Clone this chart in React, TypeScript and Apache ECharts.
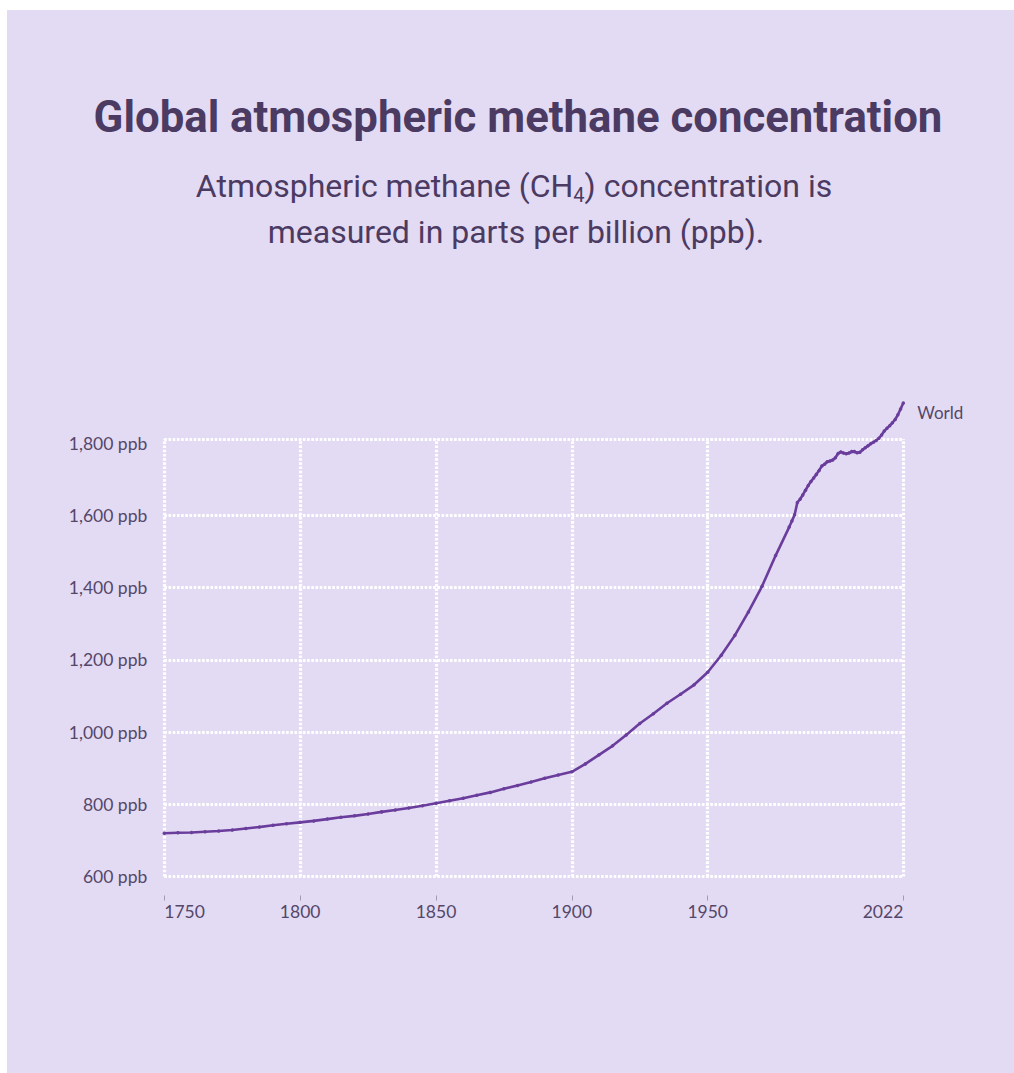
import React, { useEffect, useRef } from "react";
import * as echarts from "echarts";

const years = [
  1750, 1755, 1760, 1765, 1770, 1775, 1780, 1785, 1790, 1795,
  1800, 1805, 1810, 1815, 1820, 1825, 1830, 1835, 1840, 1845,
  1850, 1855, 1860, 1865, 1870, 1875, 1880, 1885, 1890, 1895,
  1900, 1905, 1910, 1915, 1920, 1925, 1930, 1935, 1940, 1945,
  1950, 1955, 1960, 1965, 1970, 1975, 1980, 1981, 1982, 1983,
  1984, 1985, 1986, 1987, 1988, 1989, 1990, 1991, 1992, 1993,
  1994, 1995, 1996, 1997, 1998, 1999, 2000, 2001, 2002, 2003,
  2004, 2005, 2006, 2007, 2008, 2009, 2010, 2011, 2012, 2013,
  2014, 2015, 2016, 2017, 2018, 2019, 2020, 2021, 2022,
];

const methanePpb = [
  720, 721, 722, 724, 726, 729, 733, 737, 742, 746,
  750, 754, 759, 764, 768, 773, 779, 784, 790, 796,
  803, 810, 817, 825, 833, 843, 852, 862, 872, 881,
  890, 912, 937, 962, 992, 1024, 1051, 1080, 1105, 1131,
  1166, 1213, 1268, 1333, 1404, 1489, 1568, 1585, 1602, 1636,
  1645, 1657, 1670, 1683, 1694, 1704, 1714, 1725, 1737, 1742,
  1749, 1751, 1754, 1760, 1772, 1776, 1773, 1771, 1773, 1777,
  1777, 1774, 1775, 1782, 1788, 1793, 1799, 1803, 1808, 1814,
  1823, 1834, 1842, 1849, 1857, 1866, 1879, 1895, 1912,
];

const xTickYears = [1750, 1800, 1850, 1900, 1950, 2022];
const yTickValues = [600, 800, 1000, 1200, 1400, 1600, 1800];
const seriesName = "World";
const titleText = "Global atmospheric methane concentration";
const subtitleLine1 = "Atmospheric methane (CH{sub|4}) concentration is";
const subtitleLine2 = "measured in parts per billion (ppb).";

const BG = "#e3dbf3";
const TITLE_COLOR = "#4b3a62";
const LABEL_COLOR = "#55476a";
const LINE_COLOR = "#6a3d9c";

export default function App() {
  const ref = useRef<HTMLDivElement>(null);

  useEffect(() => {
    if (!ref.current) return;
    const chart = echarts.init(ref.current, undefined, { renderer: "svg" });
    const data = years.map((y, i) => [y, methanePpb[i]]);

    const gridLines = [
      ...xTickYears.map((v) => ({ xAxis: v })),
      ...yTickValues.slice(0, -1).map((v) => ({ yAxis: v })),
      { yAxis: 1812 },
    ];

    chart.setOption({
      animation: false,
      backgroundColor: BG,
      graphic: [
        {
          type: "text",
          x: 511,
          y: 106.5,
          scaleX: 0.994,
          style: {
            text: titleText,
            fontFamily: "Roboto",
            fontWeight: 700,
            fontSize: 44,
            fill: TITLE_COLOR,
            align: "center",
            verticalAlign: "middle",
          },
        },
        {
          type: "text",
          x: 507,
          y: 176,
          style: {
            text: subtitleLine1,
            fontFamily: "Roboto",
            fontWeight: 400,
            fontSize: 32,
            lineHeight: 38,
            fill: TITLE_COLOR,
            align: "center",
            verticalAlign: "middle",
            rich: {
              sub: {
                fontFamily: "Roboto",
                fontSize: 20,
                lineHeight: 20,
                verticalAlign: "bottom",
                fill: TITLE_COLOR,
              },
            },
          },
        },
        {
          type: "text",
          x: 509,
          y: 222,
          style: {
            text: subtitleLine2,
            fontFamily: "Roboto",
            fontWeight: 400,
            fontSize: 32,
            fill: TITLE_COLOR,
            align: "center",
            verticalAlign: "middle",
          },
        },
      ],
      grid: { left: 157.3, right: 110.7, top: 429, bottom: 196.5 },
      xAxis: {
        type: "value",
        min: 1750,
        max: 2022,
        offset: 19,
        axisLine: { show: false },
        splitLine: { show: false },
        axisTick: {
          show: true,
          customValues: xTickYears,
          length: 5,
          lineStyle: { color: "#a39bb0", width: 1 },
        },
        axisLabel: {
          customValues: xTickYears,
          formatter: (v: number) => String(v),
          alignMinLabel: "left",
          alignMaxLabel: "right",
          margin: 7,
          color: LABEL_COLOR,
          fontFamily: "Lato",
          fontSize: 17.5,
        },
      },
      yAxis: {
        type: "value",
        min: 600,
        max: 1812,
        axisLine: { show: false },
        axisTick: { show: false },
        splitLine: { show: false },
        axisLabel: {
          customValues: yTickValues,
          formatter: (v: number) => v.toLocaleString("en-US") + " ppb",
          margin: 17,
          color: LABEL_COLOR,
          fontFamily: "Lato",
          fontSize: 17.5,
        },
      },
      series: [
        {
          type: "line",
          name: "grid",
          data,
          silent: true,
          showSymbol: false,
          lineStyle: { opacity: 0 },
          z: 1,
          markLine: {
            silent: true,
            symbol: ["none", "none"],
            label: { show: false },
            lineStyle: { color: "#ffffff", width: 3.2, type: [2.6, 1.6], opacity: 1 },
            emphasis: { disabled: true },
            data: gridLines,
          },
        },
        {
          type: "line",
          name: seriesName,
          data,
          z: 5,
          clip: false,
          showSymbol: true,
          symbol: "circle",
          symbolSize: 3.5,
          itemStyle: { color: LINE_COLOR },
          lineStyle: { color: LINE_COLOR, width: 2.6 },
          endLabel: {
            show: true,
            formatter: seriesName,
            color: LABEL_COLOR,
            fontFamily: "Lato",
            fontSize: 17,
            distance: 14,
            offset: [0, 10],
          },
        },
      ],
    });

    return () => chart.dispose();
  }, []);

  return (
    <div
      ref={ref}
      style={{ position: "fixed", left: 7, top: 10, width: 1007, height: 1063 }}
    />
  );
}
